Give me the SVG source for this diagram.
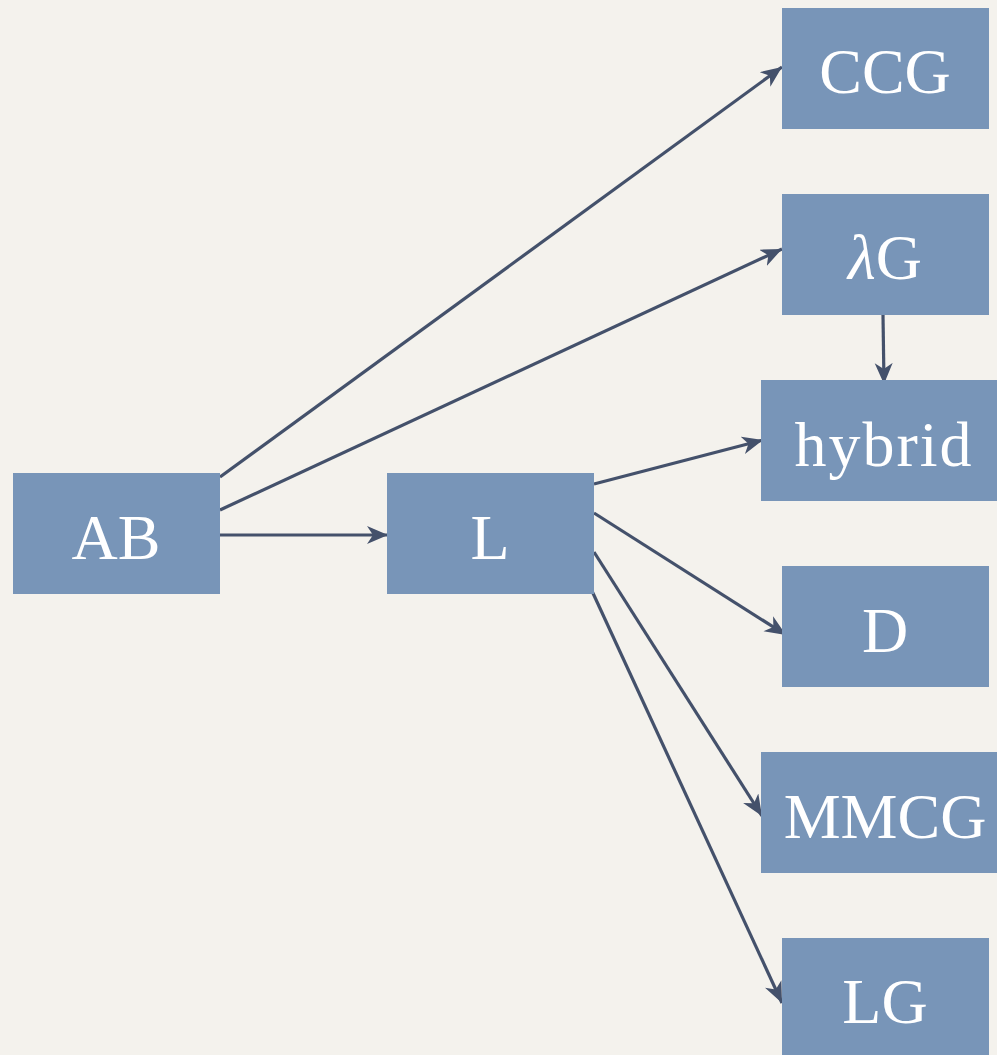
<svg xmlns="http://www.w3.org/2000/svg" width="997" height="1055" viewBox="0 0 997 1055">
  <defs>
    <style>
      .box { fill: #7895b8; }
      .lbl { font-family: "Liberation Serif", "DejaVu Serif", serif; font-size: 64px; fill: #ffffff; text-anchor: middle; }
      .edge { stroke: #44516b; stroke-width: 3.2; fill: none; marker-end: url(#arrow); }
    </style>
    <marker id="arrow" markerUnits="userSpaceOnUse" markerWidth="24" markerHeight="20" refX="21" refY="9" orient="auto">
      <path d="M0,0 L21,9 L0,18 L6,9 z" fill="#44516b"/>
    </marker>
  </defs>

  <rect width="997" height="1055" fill="#f4f2ed"/>

  <g id="connectors">
    <line class="edge" x1="220" y1="477" x2="782" y2="67"/>
    <line class="edge" x1="220" y1="510" x2="782" y2="249"/>
    <line class="edge" x1="220" y1="535" x2="388" y2="535"/>
    <line class="edge" x1="883" y1="315" x2="884" y2="384"/>
    <line class="edge" x1="594" y1="484" x2="763" y2="440"/>
    <line class="edge" x1="594" y1="513" x2="786" y2="635"/>
    <line class="edge" x1="594" y1="552" x2="762" y2="816"/>
    <line class="edge" x1="592" y1="591" x2="782" y2="1003"/>
  </g>

  <g id="node-ccg">
    <rect class="box" x="782" y="8" width="207" height="121"/>
    <text class="lbl" x="885" y="93">CCG</text>
  </g>
  <g id="node-lambda-g">
    <rect class="box" x="782" y="194" width="207" height="121"/>
    <text class="lbl" x="885" y="279"><tspan font-style="italic">λ</tspan>G</text>
  </g>
  <g id="node-hybrid">
    <rect class="box" x="761" y="380" width="236" height="121"/>
    <text class="lbl" x="884" y="466" letter-spacing="2">hybrid</text>
  </g>
  <g id="node-d">
    <rect class="box" x="782" y="566" width="207" height="121"/>
    <text class="lbl" x="885" y="652">D</text>
  </g>
  <g id="node-mmcg">
    <rect class="box" x="761" y="752" width="236" height="121"/>
    <text class="lbl" x="885" y="838">MMCG</text>
  </g>
  <g id="node-lg">
    <rect class="box" x="782" y="938" width="207" height="121"/>
    <text class="lbl" x="885" y="1023">LG</text>
  </g>
  <g id="node-ab">
    <rect class="box" x="13" y="473" width="207" height="121"/>
    <text class="lbl" x="116" y="559">AB</text>
  </g>
  <g id="node-l">
    <rect class="box" x="387" y="473" width="207" height="121"/>
    <text class="lbl" x="490" y="559">L</text>
  </g>
</svg>
